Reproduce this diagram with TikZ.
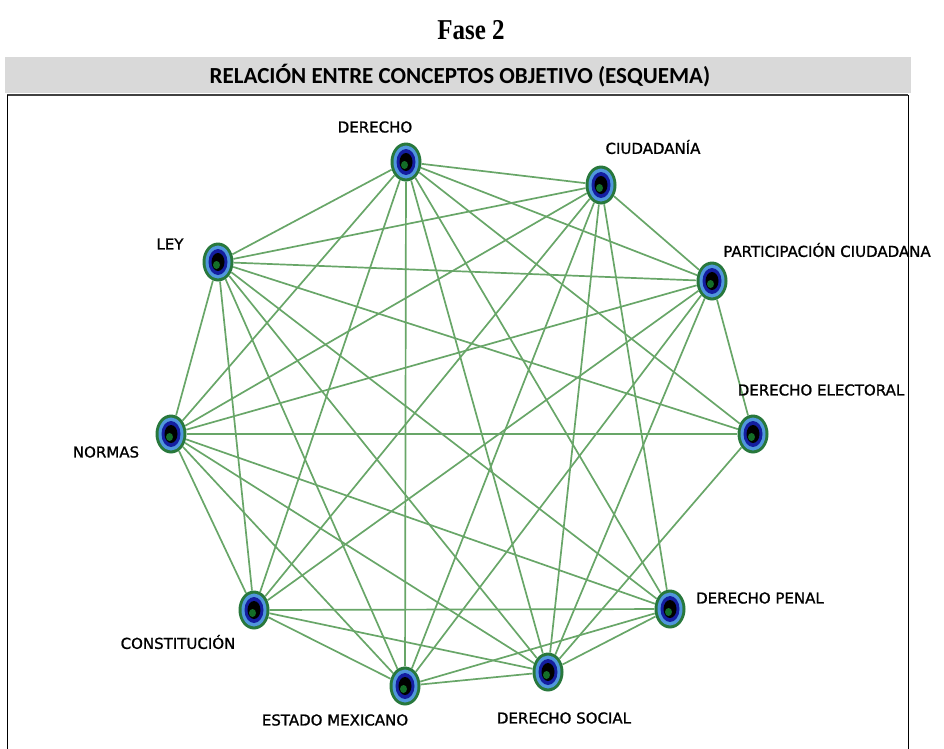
\documentclass[tikz,border=0pt]{standalone}
\usepackage{fontspec}
\setmainfont{Liberation Serif}
\newfontfamily\labelfont[FakeBold=1.2]{DejaVu Sans}
\newfontfamily\headerfont{Carlito}
\usetikzlibrary{shapes.geometric}
\pgfdeclarelayer{background}
\pgfsetlayers{background,main}
\definecolor{edgegreen}{RGB}{104,166,104}
\definecolor{ringgreen}{RGB}{40,120,60}
\definecolor{ringblue}{RGB}{80,150,220}
\definecolor{coreblue}{RGB}{20,30,160}
\definecolor{spotgreen}{RGB}{20,110,40}
\definecolor{barGray}{RGB}{217,217,217}
\tikzset{
  concept/.style={ellipse, minimum width=31pt, minimum height=39pt, inner sep=0pt,
    fill=ringgreen, path picture={
      \fill[ringblue] (path picture bounding box.center) ellipse [x radius=12.5pt, y radius=16.5pt];
      \fill[coreblue] (path picture bounding box.center) ellipse [x radius=9.5pt, y radius=13pt];
      \fill[black] (path picture bounding box.center) ellipse [x radius=6.5pt, y radius=9pt];
      \fill[spotgreen] ([shift={(-1.5pt,-3pt)}]path picture bounding box.center) ellipse [x radius=3.5pt, y radius=4pt];
    }},
  conn/.style={draw=edgegreen, line width=1.7pt},
  lbl/.style={font=\labelfont\fontsize{15}{17}\selectfont, inner sep=0pt, text=black},
}
\begin{document}
\begin{tikzpicture}[x=1pt,y=-1pt]
\useasboundingbox (0,0) rectangle (944,748);
\node[font=\bfseries\fontsize{25}{28}\selectfont, inner sep=0pt, yscale=1.15, transform shape] (title) at (471,30) {Fase 2};
\fill[barGray] (5,57) rectangle (911,93);
\node[font=\headerfont\bfseries\fontsize{23}{26}\selectfont, inner sep=0pt] (head) at (460,76) {RELACIÓN ENTRE CONCEPTOS OBJETIVO (ESQUEMA)};
\draw[line width=1.2pt, black!75] (7,95) -- (908,95);
\draw[line width=0.8pt] (7,95) -- (7,750) (908,95) -- (908,750);

% concept nodes
\node[concept] (D) at (406,162) {};
\node[concept] (C) at (601,185) {};
\node[concept] (L) at (218,262) {};
\node[concept] (P) at (712,281) {};
\node[concept] (N) at (171,434) {};
\node[concept] (E) at (753,434) {};
\node[concept] (K) at (254,610) {};
\node[concept] (Pe) at (670,609) {};
\node[concept] (M) at (405,686) {};
\node[concept] (S) at (548,672) {};

% labels
\node[lbl] (lD) at (375,127) {DERECHO};
\node[lbl] (lC) at (653,147) {CIUDADANÍA};
\node[lbl] (lL) at (170,244) {LEY};
\node[lbl] (lP) at (827,250) {PARTICIPACIÓN CIUDADANA};
\node[lbl] (lN) at (106,452) {NORMAS};
\node[lbl] (lE) at (821,390) {DERECHO ELECTORAL};
\node[lbl] (lK) at (178,642) {CONSTITUCIÓN};
\node[lbl] (lPe) at (760,598) {DERECHO PENAL};
\node[lbl] (lM) at (335,720) {ESTADO MEXICANO};
\node[lbl] (lS) at (564,718) {DERECHO SOCIAL};

% connectors
\begin{pgfonlayer}{background}
\foreach \a/\b in {D/L, D/C, D/P, D/E, D/N, D/K, D/M, D/S, D/Pe,
                   C/L, C/N, C/K, C/M, C/S, C/Pe, C/P,
                   L/P, L/E, L/N, L/K, L/M, L/S, L/Pe,
                   P/N, P/K, P/M, P/S, P/E,
                   N/E, N/K, N/M, N/S, N/Pe,
                   E/S,
                   K/M, K/S, K/Pe,
                   M/S, M/Pe,
                   S/Pe}
  \draw[conn] (\a) -- (\b);
\end{pgfonlayer}
\end{tikzpicture}
\end{document}
